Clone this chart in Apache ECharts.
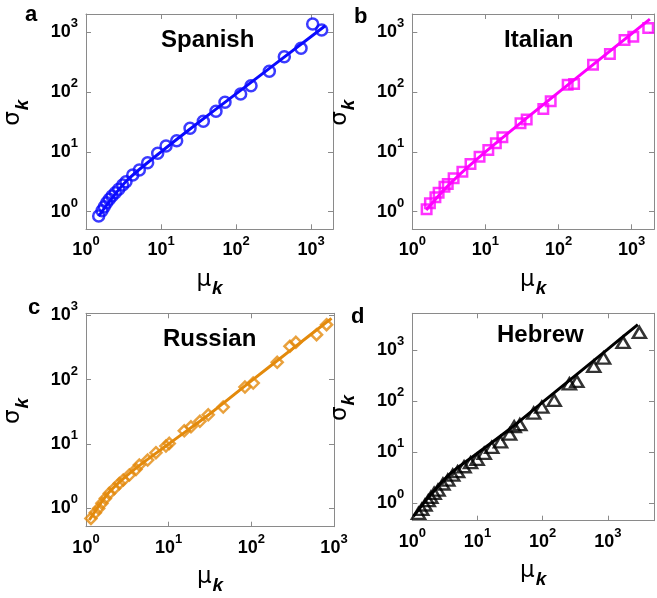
<!DOCTYPE html>
<html><head><meta charset="utf-8">
<script src="https://cdn.jsdelivr.net/npm/echarts@6/dist/echarts.min.js"></script>
<style>html,body{margin:0;padding:0;background:#fff}#c{width:657px;height:598px}</style>
</head><body><div id="c"></div>
<script>
// ---------- data ----------
const panelLetters = ['a', 'b', 'c', 'd'];
const languages = ['Spanish', 'Italian', 'Russian', 'Hebrew'];
const tickExponents = [0, 1, 2, 3];

const spanishMu    = [1.476,1.633,1.754,1.888,2.046,2.223,2.46,2.729,3.083,3.412,4.198,5.14,6.637,9.036,11.67,16.18,24.38,36.64,54.08,71.29,115.3,158.5,278,440.6,736.2,1052,1387];
const spanishSigma = [0.847,1.04,1.213,1.416,1.611,1.832,2.08,2.371,2.793,3.177,4.111,4.977,6.592,9.484,12.56,15.38,24.83,32.51,47.75,67.45,92.9,127.9,222.8,390.8,539.5,1377,1091];
const spanishFitMu    = [1.476,3.41,10,24.4,100,1549];
const spanishFitSigma = [0.847,3.2,10,24.2,93.3,1288];

const italianMu    = [1.57,1.742,2.07,2.291,2.754,3.055,3.673,4.842,6.252,8.318,10.96,13.9,17.06,30.2,36.7,61.94,78.16,133.4,163.3,296.5,504.7,799.8,1054,1687];
const italianSigma = [1.096,1.38,1.742,2.08,2.618,2.904,3.614,4.667,6.281,8.318,10.76,13.93,17.54,30.1,34.7,52.12,70.15,133,136.5,287.1,433.5,743,843.3,1180];
const italianFitMu    = [1.549,3.162,10,100,1778];
const italianFitSigma = [1.072,2.818,10,98.9,1660];

const russianMu    = [1.148,1.297,1.422,1.56,1.714,1.914,2.203,2.529,2.825,3.342,4.027,4.416,5.572,7.015,9.268,10.16,15.45,18.62,23.88,30.13,45.71,83.75,105.4,205.6,293.1,345.9,615.2,812.8];
const russianSigma = [0.7,0.855,1,1.197,1.429,1.71,2.042,2.443,2.754,3.289,4.036,4.699,5.623,7.311,9.268,10.21,16.03,18.49,22.44,28.38,37.41,76.56,88.31,184.9,328.1,378.4,496.6,709.6];
const russianFitMu    = [1.096,1.5,1.995,3.981,10,31.62,100,316.2,933];
const russianFitSigma = [0.661,1.2,1.905,4.169,10,29.51,95.5,302,891];

const hebrewMu    = [1.245,1.396,1.567,1.758,1.928,2.163,2.483,2.951,3.508,4.169,4.955,6.223,7.834,9.863,12.68,16.56,22.54,31.1,36.56,44.67,72.78,97.05,150.3,257,335,608.1,859,1714,3048];
const hebrewSigma = [0.637,0.764,0.927,1.125,1.309,1.57,1.82,2.388,2.858,3.581,4.159,5.2,6.237,7.261,9.506,12.47,16.03,22.7,31.62,34.67,58.48,76.74,103.7,218.8,243.8,479.7,696.6,1416,2218];
const hebrewFitMu    = [1.047,1.995,3.981,10,31.62,100,316.2,1000,2884];
const hebrewFitSigma = [0.562,1.585,3.981,9.55,28.84,95.5,316.2,1047,3162];

// ---------- styling / layout ----------
const FONT = '"Liberation Sans", Arial, Helvetica, sans-serif';
const AXIS_COLOR = '#8a8a8a';
const panels = [
  {left: 86,    top: 14,    width: 247,   height: 215.3, xMax: Math.pow(10, 3.293), yMin: Math.pow(10, -0.294), yMax: Math.pow(10, 3.306),
   mu: spanishMu, sigma: spanishSigma, fmu: spanishFitMu, fsig: spanishFitSigma, color: '#0a0aff', symbol: 'circle', size: 11,
   titleLeft: 161, titleTop: 28.5, letterLeft: 25, letterTop: 4},
  {left: 412.3, top: 14,    width: 248,   height: 215.3, xMax: Math.pow(10, 3.306), yMin: Math.pow(10, -0.294), yMax: Math.pow(10, 3.306),
   mu: italianMu, sigma: italianSigma, fmu: italianFitMu, fsig: italianFitSigma, color: '#ff00ff', symbol: 'rect', size: 9.5,
   titleLeft: 504, titleTop: 28, letterLeft: 354, letterTop: 6},
  {left: 86,    top: 313.3, width: 248,   height: 213.4, xMax: 1000, yMin: Math.pow(10, -0.284), yMax: Math.pow(10, 3.028),
   mu: russianMu, sigma: russianSigma, fmu: russianFitMu, fsig: russianFitSigma, color: '#e38a0c', symbol: 'diamond', size: 11,
   titleLeft: 163, titleTop: 327, letterLeft: 28, letterTop: 297},
  {left: 412.3, top: 313.3, width: 247.7, height: 207.4, xMax: Math.pow(10, 3.708), yMin: Math.pow(10, -0.34), yMax: Math.pow(10, 3.72),
   mu: hebrewMu, sigma: hebrewSigma, fmu: hebrewFitMu, fsig: hebrewFitSigma, color: '#000000', symbol: 'triangle', size: [13, 11],
   titleLeft: 497, titleTop: 323.5, letterLeft: 351, letterTop: 306}
];

function powLabel(v) {
  const e = Math.log10(v);
  const r = Math.round(e);
  if (Math.abs(e - r) > 1e-6 || tickExponents.indexOf(r) < 0) return '';
  return '{b|10}{s|' + r + '}';
}
const labelRich = {
  b: {fontFamily: FONT, fontWeight: 'bold', fontSize: 18, color: '#000', verticalAlign: 'bottom', padding: [6, 0, 6, 0]},
  s: {fontFamily: FONT, fontWeight: 'bold', fontSize: 13, color: '#000', verticalAlign: 'top'}
};
const nameRich = {
  m: {fontFamily: '"DejaVu Sans", sans-serif', fontSize: 23, color: '#000', verticalAlign: 'top'},
  k: {fontFamily: FONT, fontWeight: 'bold', fontStyle: 'italic', fontSize: 19, color: '#000', verticalAlign: 'bottom', padding: [11, 0, 0, 1]}
};

const grid = [], xAxis = [], yAxis = [], series = [], title = [];
panels.forEach((p, i) => {
  grid.push({left: p.left, top: p.top, width: p.width, height: p.height, containLabel: false});
  const common = {type: 'log', logBase: 10, gridIndex: i, splitLine: {show: false},
    axisLine: {show: true, onZero: false, lineStyle: {color: AXIS_COLOR, width: 1}},
    axisTick: {show: true, inside: true, length: 5, lineStyle: {color: AXIS_COLOR}},
    minorTick: {show: false}};
  xAxis.push(Object.assign({}, common, {position: 'bottom', min: 1, max: p.xMax,
    axisLabel: {formatter: powLabel, rich: labelRich, margin: 6, showMinLabel: true, showMaxLabel: true},
    name: '{m|μ}{k|k}', nameLocation: 'middle', nameGap: 39, nameTextStyle: {rich: nameRich}}));
  xAxis.push(Object.assign({}, common, {position: 'top', min: 1, max: p.xMax, axisLabel: {show: false}}));
  yAxis.push(Object.assign({}, common, {position: 'left', min: p.yMin, max: p.yMax,
    axisLabel: {formatter: powLabel, rich: labelRich, margin: 8, showMinLabel: true, showMaxLabel: true},
    name: '{m|σ}{k|k}', nameLocation: 'middle', nameRotate: 90, nameGap: 54,
    nameTextStyle: {rich: nameRich, padding: [0, 0, 0, 18]}}));
  yAxis.push(Object.assign({}, common, {position: 'right', min: p.yMin, max: p.yMax, axisLabel: {show: false}}));

  series.push({type: 'scatter', xAxisIndex: 2 * i, yAxisIndex: 2 * i, symbol: p.symbol, symbolSize: p.size,
    data: p.mu.map((m, j) => [m, p.sigma[j]]),
    itemStyle: {color: 'rgba(0,0,0,0)', borderColor: p.color, borderWidth: 2.5}, silent: true, z: 2});
  series.push({type: 'line', xAxisIndex: 2 * i, yAxisIndex: 2 * i, showSymbol: false, smooth: 0.3,
    data: p.fmu.map((m, j) => [m, p.fsig[j]]),
    lineStyle: {color: p.color, width: 3}, silent: true, z: 3});

  title.push({text: languages[i], left: p.titleLeft, top: p.titleTop, padding: 0,
    textStyle: {fontFamily: FONT, fontWeight: 'bold', fontSize: 24, color: '#000'}});
  title.push({text: panelLetters[i], left: p.letterLeft, top: p.letterTop, padding: 0,
    textStyle: {fontFamily: FONT, fontWeight: 'bold', fontSize: 22, color: '#000'}});
});

const chart = echarts.init(document.getElementById('c'), null, {renderer: 'canvas'});
chart.setOption({animation: false, backgroundColor: '#fff', title, grid, xAxis, yAxis, series});
</script>
</body></html>
